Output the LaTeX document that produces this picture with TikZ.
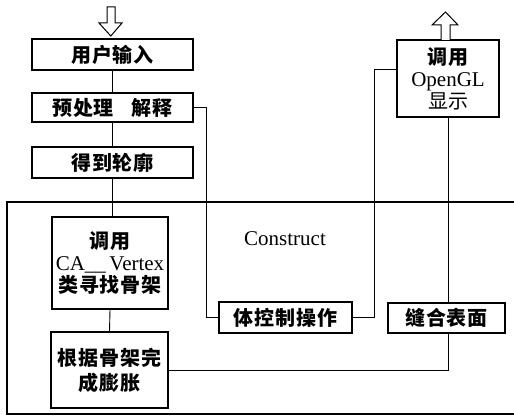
\documentclass[tikz,border=0pt]{standalone}
\usepackage{fontspec}
\setmainfont{Liberation Serif}
\newfontfamily\cjk[LetterSpace=4]{Noto Sans CJK SC}
\newfontfamily\cjkplain{Noto Sans CJK SC}
\usetikzlibrary{calc}
\tikzset{
  box/.style={draw, line width=1.1pt, inner sep=0pt, align=center,
    font=\fontsize{20}{24}\selectfont\cjk\bfseries},
  link/.style={draw, line width=0.9pt},
  hollow/.style={draw, line width=1pt, fill=white},
  lat/.style={font=\fontsize{21}{24}\selectfont\rmfamily},
}
\begin{document}
\begin{tikzpicture}[x=1pt,y=-1pt]
\useasboundingbox (0,0) rectangle (514,417);
% frame
\draw[line width=1.1pt] (514,202) -- (7,202) -- (7,414) -- (514,414);
% boxes
\node[box, minimum width=161, minimum height=31] (user) at (112.5,54.5) {用户输入};
\node[box, minimum width=161, minimum height=29] (pre) at (112.5,107.5) {预处理\hspace{0.9em}解释};
\node[box, minimum width=161, minimum height=31] (contour) at (112.5,162.5) {得到轮廓};
\node[box, minimum width=116, minimum height=92] (ca) at (110,263)
  {调用\\[-2pt]{\fontsize{21}{24}\selectfont\rmfamily\mdseries CA\_\_\,Vertex}\\[-2pt]类寻找骨架};
\node[box, minimum width=117, minimum height=76] (expand) at (109.5,370) {根据骨架完\\[1pt]成膨胀};
\node[box, minimum width=133, minimum height=31] (body) at (285.5,317.5) {体控制操作};
\node[box, minimum width=117, minimum height=30] (stitch) at (446.5,318) {缝合表面};
\node[box, minimum width=102, minimum height=77] (disp) at (448,78.5)
  {调用\\[-2pt]{\fontsize{21}{24}\selectfont\rmfamily\mdseries OpenGL}\\[-2pt]{\mdseries\cjkplain 显示}};
\node[lat] (construct) at (285,239) {Construct};
% hollow arrows
\draw[hollow] (107,7) -- (115,7) -- (115,23) -- (122,23) -- (110.8,36) -- (99,23) -- (107,23) -- cycle;
\draw[hollow] (441,40) -- (441,25) -- (432,25) -- (445.5,12) -- (458,25) -- (450,25) -- (450,40);
% connectors
\draw[link] (user.south) -- (pre.north);
\draw[link] (pre.south) -- (contour.north);
\draw[link] (contour.south) -- (contour.south |- ca.north);
\draw[link] (ca.south) -- (expand.north);
\draw[link] (pre.east) -- ++(13,0) |- (body.west);
\coordinate (dispin) at ($(disp.north west)!0.39!(disp.south west)$);
\draw[link] (body.east) -- ++(22,0) |- (dispin);
\draw[link] (disp.south) -- (disp.south |- stitch.north);
\draw[link] (disp.south |- stitch.south) |- (expand.east);
\end{tikzpicture}
\end{document}
